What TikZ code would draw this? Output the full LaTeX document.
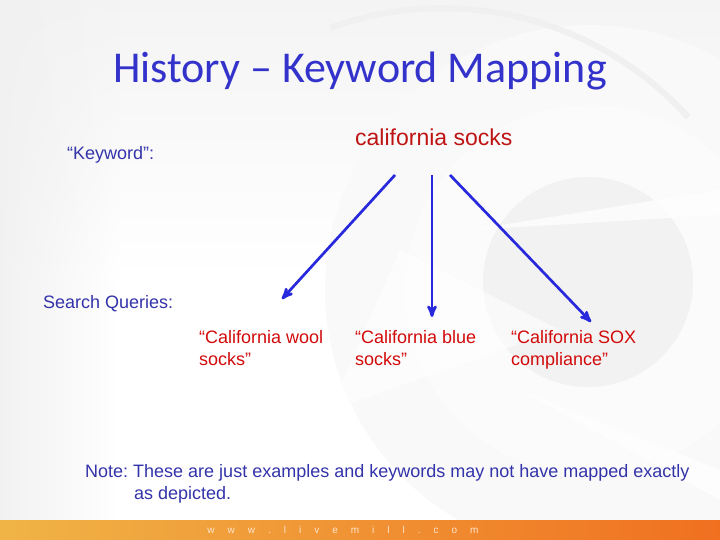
\documentclass[tikz,border=0pt]{standalone}
\usepackage{fontspec}
\setmainfont{Liberation Sans}
\newfontfamily\titlefont{Carlito}
\usetikzlibrary{arrows}
\usetikzlibrary{positioning}
\usetikzlibrary{fadings}
\definecolor{titleblue}{RGB}{51,51,204}
\definecolor{textblue}{RGB}{51,51,170}
\definecolor{arrowblue}{RGB}{40,40,220}
\definecolor{darkred}{RGB}{190,20,20}
\definecolor{qred}{RGB}{210,10,10}
\definecolor{barleft}{RGB}{240,180,70}
\definecolor{barright}{RGB}{240,112,32}
\newcommand{\ls}{\hspace{13pt}}
\tikzset{
  label/.style={inner sep=0pt, anchor=base west, text=textblue, font=\fontsize{18}{22}\selectfont},
  query/.style={inner sep=0pt, anchor=north west, align=left, text=qred, font=\fontsize{18}{22}\selectfont},
  map/.style={arrowblue, line width=2.7pt, ->, >=stealth'}
}

\begin{document}
\frenchspacing
\begin{tikzpicture}[x=1pt, y=-1pt]
\useasboundingbox (0,0) rectangle (720,540);
% faint background swirl
\fill[gray!9, path fading=south] (0,0) rectangle (720,280);
\fill[gray!11, path fading=east] (0,0) rectangle (120,520);
\begin{scope}
\clip (0,0) rectangle (720,520);
\fill[gray!5] (590,290) circle (265);
\fill[white!40!gray!5] (590,290) circle (185);
\fill[gray!10] (588,282) circle (105);
\fill[white, opacity=.7] (470,230) -- (720,190) -- (720,215) -- cycle;
\fill[white, opacity=.7] (520,390) -- (720,470) -- (720,500) -- cycle;
\fill[white, opacity=.6] (400,250) -- (560,330) -- (330,410) -- cycle;
\draw[gray!12, line width=6pt] (330,28) arc (250:318:330);
\end{scope}
% footer bar
\shade[left color=barleft, right color=barright] (0,520) rectangle (720,540);
\node[text=white!80!orange, font=\fontsize{10}{10}\selectfont] (web) at (343,530)
  {w\ls w\ls w\ls .\ls l\ls i\ls v\ls e\ls m\ls i\ls l\ls l\ls .\ls c\ls o\ls m};
% text
\node[text=titleblue, font=\titlefont\fontsize{44}{48}\selectfont] (title) at (360,71) {History – Keyword Mapping};
\node[label] (kw) at (67,160) {“Keyword”:};
\node[inner sep=0pt, anchor=base west, text=darkred, font=\fontsize{23}{26}\selectfont] (socks) at (355,146) {california socks};
\node[label] (sq) at (43,308) {Search Queries:};
\node[query] (q1) at (199,330) {“California wool\\socks”};
\node[query] (q2) at (355,330) {“California blue\\socks”};
\node[query] (q3) at (511,330) {“California SOX\\compliance”};
\node[label, align=left, anchor=north west] (note) at (85,464)
  {Note: These are just examples and keywords may not have mapped exactly\\\hspace*{49pt}as depicted.};
% arrows
\coordinate (s1) at (395,175);
\coordinate (s2) at (432,175);
\coordinate (s3) at (450,175);
\coordinate (e1) at (282,299);
\coordinate (e2) at (432,317);
\coordinate (e3) at (591,322);
\draw[map] (s1) -- (e1);
\draw[map] (s2) -- (e2);
\draw[map] (s3) -- (e3);
\end{tikzpicture}
\end{document}
